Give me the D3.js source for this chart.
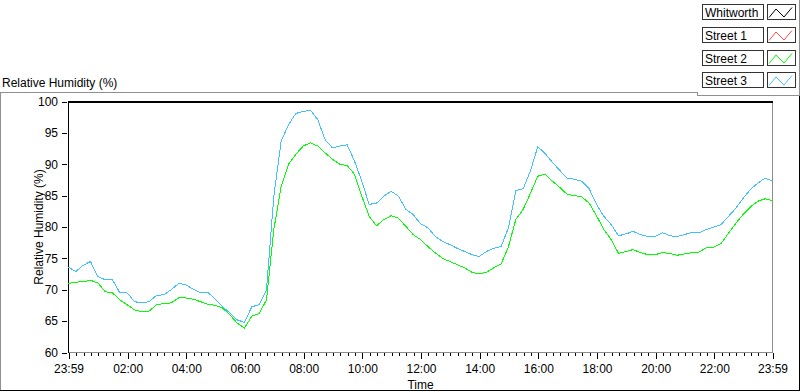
<!DOCTYPE html>
<html>
<head>
<meta charset="utf-8">
<title>Relative Humidity</title>
<script src="https://cdn.jsdelivr.net/npm/d3@7"></script>
<style>
    body {
      margin: 0;
      background: #fff;
      font: 12px "Liberation Sans", Arial, sans-serif;
    }
    svg text { fill: #000; }
</style>
</head>
<body>
<div id="plot"></div>
<script>
    // series shown in the legend (Whitworth and Street 1 have no samples plotted)
    var seriesNames = ["Whitworth", "Street 1", "Street 2", "Street 3"];
    var seriesColors = ["#000000", "#ff4848", "#00ff00", "#40c0ff"];

    // samples every 15 minutes from 23:59 to 23:59 next day
    var stepMinutes = 15;
    var whitworth = [];
    var street1 = [];
    var street2 = [71.0, 71.2, 71.3, 71.5, 71.1, 69.7, 69.5, 68.4, 67.6, 66.8, 66.5, 66.6,
        67.6, 67.8, 67.9, 68.7, 68.7, 68.5, 68.1, 67.7, 67.5, 67.1, 66.0, 64.7,
        63.9, 65.8, 66.2, 68.4, 79.6, 86.5, 90.0, 91.6, 92.9, 93.4, 92.9, 91.8,
        90.8, 90.0, 89.8, 88.4, 84.9, 81.7, 80.2, 81.2, 81.8, 81.4, 80.1, 78.8,
        78.0, 76.9, 75.9, 75.0, 74.5, 74.0, 73.5, 72.8, 72.5, 72.8, 73.5, 74.1,
        76.9, 81.2, 82.8, 85.4, 88.1, 88.4, 87.3, 86.3, 85.2, 85.0, 84.8, 83.8,
        81.8, 79.6, 78.0, 75.8, 76.1, 76.4, 75.9, 75.6, 75.6, 75.9, 75.8, 75.5,
        75.7, 75.9, 76.0, 76.7, 76.8, 77.4, 79.0, 80.6, 82.0, 83.2, 84.1, 84.5, 84.2];
    var street3 = [73.6, 72.9, 73.9, 74.5, 72.1, 71.6, 71.6, 69.5, 69.5, 68.1, 67.9, 68.1,
        69.1, 69.2, 70.0, 71.0, 70.8, 70.1, 69.5, 69.6, 68.5, 67.3, 66.3, 65.2,
        64.8, 67.3, 67.6, 70.0, 84.9, 93.7, 96.3, 98.1, 98.4, 98.6, 97.1, 93.9,
        92.6, 92.9, 93.1, 90.5, 87.3, 83.6, 83.8, 84.9, 85.7, 84.9, 82.8, 82.0,
        80.5, 79.9, 78.5, 77.7, 77.2, 76.6, 76.1, 75.6, 75.3, 76.1, 76.6, 76.9,
        79.9, 85.8, 86.1, 89.0, 92.8, 91.7, 90.3, 89.0, 87.8, 87.6, 87.3, 86.1,
        83.6, 81.7, 80.4, 78.6, 78.9, 79.3, 78.8, 78.5, 78.5, 79.1, 78.6, 78.5,
        78.8, 79.1, 79.1, 79.6, 80.0, 80.4, 81.7, 83.0, 84.6, 86.0, 87.0, 87.8, 87.3];

    var yTicks = [60, 65, 70, 75, 80, 85, 90, 95, 100];
    var xTickLabels = ["23:59", "02:00", "04:00", "06:00", "08:00", "10:00", "12:00",
        "14:00", "16:00", "18:00", "20:00", "22:00", "23:59"];

    var width = 800, height = 392;
    var plot = {left: 68.5, right: 772.5, top: 101.5, bottom: 352.5};

    var svg = d3.select("#plot")
        .append("svg")
            .attr("width", width)
            .attr("height", height);

    var start = new Date(2000, 0, 1, 23, 59);
    var end = new Date(2000, 0, 2, 23, 59);
    function timeAt(i) { return d3.timeMinute.offset(start, i * stepMinutes); }

    var x = d3.scaleTime()
        .domain([start, end])
        .range([plot.left, plot.right]);

    var y = d3.scaleLinear()
        .domain([60, 100])
        .range([plot.bottom, plot.top]);

    // panel frame
    var frame = svg.append("g").attr("shape-rendering", "crispEdges").attr("fill", "none");
    frame.append("path").attr("d", "M0.5,391 V92.5 H698").attr("stroke", "#909090");
    frame.append("path").attr("d", "M697.5,92 V95.5 H800").attr("stroke", "#909090");
    frame.append("path").attr("d", "M799.5,0 V95").attr("stroke", "#909090");
    frame.append("path").attr("d", "M0,390.5 H799.5 V96").attr("stroke", "#000");

    // title
    svg.append("text")
        .attr("x", 2)
        .attr("y", 87)
        .text("Relative Humidity (%)");

    // plot box
    var box = svg.append("g").attr("shape-rendering", "crispEdges").attr("fill", "none");
    box.append("rect")
        .attr("x", plot.left - 0.5)
        .attr("y", plot.top - 0.5)
        .attr("width", plot.right - plot.left)
        .attr("height", plot.bottom - plot.top)
        .attr("fill", "#fff");
    box.append("path")
        .attr("d", "M" + plot.left + "," + plot.top + " V" + plot.bottom)
        .attr("stroke", "#000");
    box.append("path")
        .attr("d", "M" + plot.right + "," + plot.top + " V" + plot.bottom + " H" + plot.left)
        .attr("stroke", "#8c8c8c");
    box.append("rect")
        .attr("x", plot.left - 0.5)
        .attr("y", plot.top - 0.5)
        .attr("width", plot.right - plot.left + 1)
        .attr("height", 2)
        .attr("fill", "#000");

    // Y axis
    var yAxis = svg.append("g")
        .attr("transform", "translate(67,0)")
        .attr("shape-rendering", "crispEdges")
        .call(d3.axisLeft(y).tickValues(yTicks).tickSize(5).tickPadding(4).tickFormat(d3.format("d")));
    yAxis.select(".domain").remove();
    yAxis.selectAll("line").attr("stroke", "#000");
    yAxis.selectAll("text").attr("font-size", 12).attr("font-family", "Liberation Sans, Arial, sans-serif").attr("fill", "#000");

    svg.append("text")
        .attr("transform", "translate(43," + ((plot.top + plot.bottom) / 2) + ") rotate(-90)")
        .attr("text-anchor", "middle")
        .text("Relative Humidity (%)");

    // X axis: major and minor ticks
    var majorTicks = [start].concat(d3.range(1, 12).map(function (h) {
        return new Date(2000, 0, 2, h * 2, 0);
    })).concat([end]);
    var minorTicks = d3.timeMinute.every(15).range(start, end).filter(function (d) {
        return d.getMinutes() !== 0 || d.getHours() % 2 !== 0 || +d === +new Date(2000, 0, 2, 0, 0);
    });

    var xMinor = svg.append("g")
        .attr("transform", "translate(0,353)")
        .attr("shape-rendering", "crispEdges")
        .call(d3.axisBottom(x).tickValues(minorTicks).tickSize(3).tickFormat(""));
    xMinor.select(".domain").remove();
    xMinor.selectAll("line").attr("stroke", "#000");

    var xAxis = svg.append("g")
        .attr("transform", "translate(0,353)")
        .attr("shape-rendering", "crispEdges")
        .call(d3.axisBottom(x).tickValues(majorTicks).tickSize(6).tickPadding(5)
            .tickFormat(function (d, i) { return xTickLabels[i]; }));
    xAxis.select(".domain").remove();
    xAxis.selectAll("line").attr("stroke", "#000");
    xAxis.selectAll("text").attr("font-size", 12).attr("font-family", "Liberation Sans, Arial, sans-serif").attr("fill", "#000");

    svg.append("text")
        .attr("x", (plot.left + plot.right) / 2)
        .attr("y", 389)
        .attr("text-anchor", "middle")
        .text("Time");

    // lines
    var line = d3.line()
        .x(function (d, i) { return x(timeAt(i)); })
        .y(function (d) { return y(d); });

    [whitworth, street1, street2, street3].forEach(function (values, k) {
        if (!values.length) return;
        svg.append("path")
            .datum(values)
            .attr("d", line)
            .attr("fill", "none")
            .attr("stroke", seriesColors[k])
            .attr("stroke-width", 1)
            .attr("shape-rendering", "crispEdges");
    });

    // legend
    var legend = svg.append("g").attr("shape-rendering", "crispEdges");
    var item = legend.selectAll("g")
        .data(seriesNames)
        .enter()
        .append("g")
        .attr("transform", function (d, i) { return "translate(0," + Math.round(4 + i * 22.8) + ")"; });
    item.append("rect")
        .attr("x", 702.5).attr("y", 0.5)
        .attr("width", 61).attr("height", 15)
        .attr("fill", "#fff").attr("stroke", "#333");
    item.append("text")
        .attr("x", 705).attr("y", 12.5)
        .text(function (d) { return d; });
    item.append("rect")
        .attr("x", 767.5).attr("y", 0.5)
        .attr("width", 28).attr("height", 15)
        .attr("fill", "#fff").attr("stroke", "#333");
    item.append("path")
        .attr("d", "M769,13.5 L776,5 L784,13 L792,3.5")
        .attr("fill", "none")
        .attr("stroke", function (d, i) { return seriesColors[i]; })
        .attr("shape-rendering", "auto");
</script>
</body>
</html>
